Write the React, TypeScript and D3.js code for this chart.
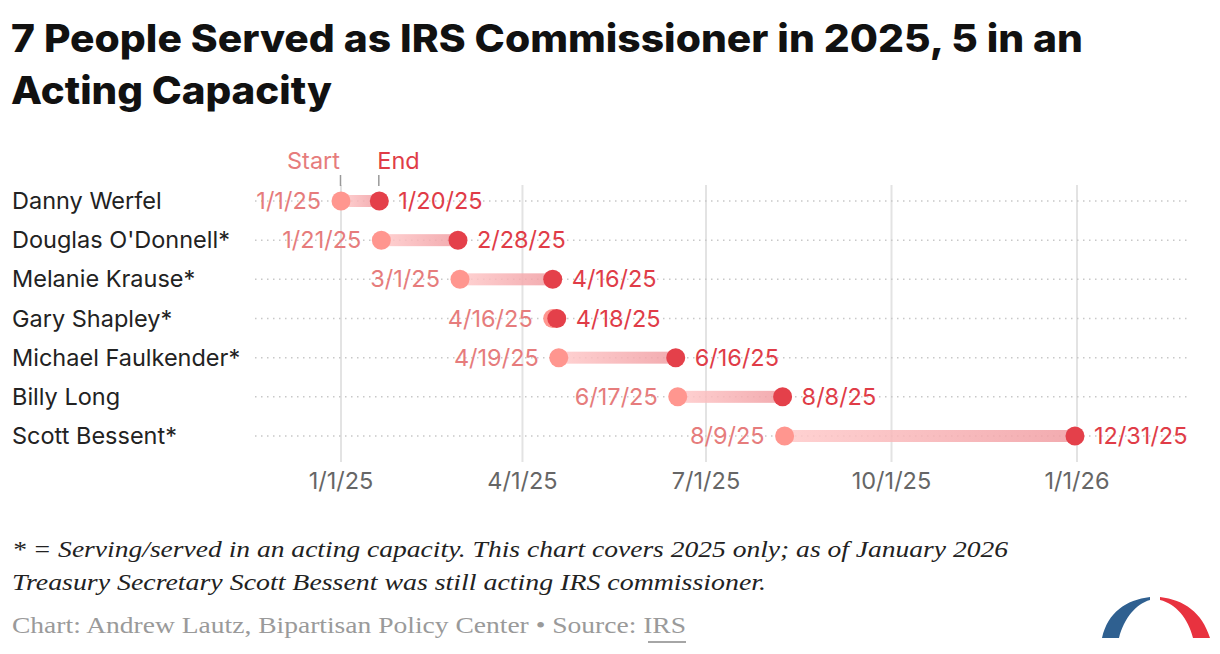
import React, { useEffect, useRef } from 'react';
import * as d3 from 'd3';

const names = [
  'Danny Werfel',
  "Douglas O'Donnell*",
  'Melanie Krause*',
  'Gary Shapley*',
  'Michael Faulkender*',
  'Billy Long',
  'Scott Bessent*',
];
const startDates = ['1/1/25', '1/21/25', '3/1/25', '4/16/25', '4/19/25', '6/17/25', '8/9/25'];
const endDates = ['1/20/25', '2/28/25', '4/16/25', '4/18/25', '6/16/25', '8/8/25', '12/31/25'];
const tickDates = ['1/1/25', '4/1/25', '7/1/25', '10/1/25', '1/1/26'];

const W = 1220;
const H = 654;
const SANS = 'Inter, "Noto Sans", sans-serif';
const SERIF = '"Liberation Serif", "DejaVu Serif", serif';
const FS = 23.5;

const App: React.FC = () => {
  const svgRef = useRef<SVGSVGElement>(null);

  useEffect(() => {
    if (!svgRef.current) return;
    document.body.style.margin = '0';
    const svg = d3.select(svgRef.current);
    svg.selectAll('*').remove();

    const parse = d3.timeParse('%m/%d/%y');
    const rows = names.map((n, i) => ({
      name: n,
      startLabel: startDates[i],
      endLabel: endDates[i],
      start: parse(startDates[i]) as Date,
      end: parse(endDates[i]) as Date,
    }));

    const x = d3.scaleTime()
      .domain([parse('1/1/25') as Date, parse('1/1/26') as Date])
      .range([341, 1077]);
    const y = d3.scalePoint<string>().domain(names).range([201, 436]);

    const defs = svg.append('defs');
    const grad = defs.append('linearGradient')
      .attr('id', 'barGrad')
      .attr('x1', '0%').attr('x2', '100%');
    grad.append('stop').attr('offset', '0%').attr('stop-color', '#ffcaca');
    grad.append('stop').attr('offset', '100%').attr('stop-color', '#f09ca1');

    // title
    const title = svg.append('text')
      .attr('font-family', SANS)
      .attr('font-weight', 800)
      .attr('font-size', 38)
      .attr('fill', '#111');
    title.append('tspan').attr('x', 11).attr('y', 52)
      .attr('textLength', 1072).attr('lengthAdjust', 'spacingAndGlyphs')
      .text('7 People Served as IRS Commissioner in 2025, 5 in an');
    title.append('tspan').attr('x', 11).attr('y', 104)
      .attr('textLength', 321).attr('lengthAdjust', 'spacingAndGlyphs')
      .text('Acting Capacity');

    // vertical grid
    const ticks = tickDates.map(t => parse(t) as Date);
    svg.append('g').selectAll('line')
      .data(ticks)
      .enter().append('line')
      .attr('x1', d => x(d)).attr('x2', d => x(d))
      .attr('y1', 185).attr('y2', 462)
      .attr('stroke', '#e3e3e3')
      .attr('stroke-width', 2);

    // row dotted lines
    svg.append('g').selectAll('line')
      .data(rows)
      .enter().append('line')
      .attr('x1', 255).attr('x2', 1190)
      .attr('y1', d => y(d.name)!).attr('y2', d => y(d.name)!)
      .attr('stroke', '#c8c8c8')
      .attr('stroke-width', 1.5)
      .attr('stroke-dasharray', '1.5,4.5');

    // axis labels
    svg.append('g').selectAll('text')
      .data(ticks)
      .enter().append('text')
      .attr('x', d => x(d))
      .attr('y', 489)
      .attr('text-anchor', 'middle')
      .attr('font-family', SANS)
      .attr('font-size', FS)
      .attr('fill', '#666')
      .text((d, i) => tickDates[i]);

    // names
    svg.append('g').selectAll('text')
      .data(rows)
      .enter().append('text')
      .attr('x', 12)
      .attr('y', d => y(d.name)! + 8)
      .attr('font-family', SANS)
      .attr('font-size', FS)
      .attr('fill', '#222')
      .text(d => d.name);

    const g = svg.append('g');
    // bars
    g.selectAll('rect.bar')
      .data(rows)
      .enter().append('rect')
      .attr('x', d => x(d.start))
      .attr('y', d => y(d.name)! - 6)
      .attr('width', d => Math.max(0.1, x(d.end) - x(d.start)))
      .attr('height', 12)
      .attr('fill', 'url(#barGrad)')
      .attr('opacity', 0.85);

    g.selectAll('circle.s')
      .data(rows)
      .enter().append('circle')
      .attr('cx', d => x(d.start))
      .attr('cy', d => y(d.name)!)
      .attr('r', 9.5)
      .attr('fill', '#ff968f');

    g.selectAll('circle.e')
      .data(rows)
      .enter().append('circle')
      .attr('cx', d => x(d.end))
      .attr('cy', d => y(d.name)!)
      .attr('r', 9.5)
      .attr('fill', '#e4404a');

    g.selectAll('text.s')
      .data(rows)
      .enter().append('text')
      .attr('x', d => x(d.start) - 20)
      .attr('y', d => y(d.name)! + 8)
      .attr('text-anchor', 'end')
      .attr('font-family', SANS)
      .attr('font-size', FS)
      .attr('fill', '#e67c7c')
      .text(d => d.startLabel);

    g.selectAll('text.e')
      .data(rows)
      .enter().append('text')
      .attr('x', d => x(d.end) + 19)
      .attr('y', d => y(d.name)! + 8)
      .attr('text-anchor', 'start')
      .attr('font-family', SANS)
      .attr('font-size', FS)
      .attr('fill', '#e03c47')
      .text(d => d.endLabel);

    // Start / End annotation
    const first = rows[0];
    svg.append('text')
      .attr('x', x(first.start) - 1)
      .attr('y', 169)
      .attr('text-anchor', 'end')
      .attr('font-family', SANS)
      .attr('font-size', FS)
      .attr('fill', '#e67c7c')
      .text('Start');
    svg.append('text')
      .attr('x', x(first.end) - 2)
      .attr('y', 169)
      .attr('text-anchor', 'start')
      .attr('font-family', SANS)
      .attr('font-size', FS)
      .attr('fill', '#e03c47')
      .text('End');
    [first.start, first.end].forEach(d => {
      svg.append('line')
        .attr('x1', x(d) - 0.5).attr('x2', x(d) - 0.5)
        .attr('y1', 175).attr('y2', 186)
        .attr('stroke', '#999')
        .attr('stroke-width', 1.5);
    });

    // notes
    svg.append('text')
      .attr('x', 12).attr('y', 557)
      .attr('font-family', SERIF)
      .attr('font-style', 'italic')
      .attr('font-size', 24)
      .attr('fill', '#222')
      .attr('textLength', 996)
      .attr('lengthAdjust', 'spacingAndGlyphs')
      .text('* = Serving/served in an acting capacity. This chart covers 2025 only; as of January 2026');
    svg.append('text')
      .attr('x', 12).attr('y', 590)
      .attr('font-family', SERIF)
      .attr('font-style', 'italic')
      .attr('font-size', 24)
      .attr('fill', '#222')
      .attr('textLength', 754)
      .attr('lengthAdjust', 'spacingAndGlyphs')
      .text('Treasury Secretary Scott Bessent was still acting IRS commissioner.');
    svg.append('text')
      .attr('x', 12).attr('y', 633)
      .attr('font-family', SERIF)
      .attr('font-size', 23)
      .attr('fill', '#9a9a9a')
      .attr('textLength', 674)
      .attr('lengthAdjust', 'spacingAndGlyphs')
      .text('Chart: Andrew Lautz, Bipartisan Policy Center • Source: IRS');
    svg.append('line')
      .attr('x1', 648).attr('x2', 686)
      .attr('y1', 642).attr('y2', 642)
      .attr('stroke', '#888')
      .attr('stroke-width', 1.5);

    // logo
    svg.append('path')
      .attr('d', 'M1102,638 C1108,612 1126,600 1150,597 L1150,600 C1136,604 1124,618 1119,638 Z')
      .attr('fill', '#2f6090');
    svg.append('path')
      .attr('d', 'M1160,597 C1184,600 1202,612 1210,638 L1193,638 C1188,618 1176,604 1160,600 Z')
      .attr('fill', '#e8323f');
  }, []);

  return (
    <svg
      ref={svgRef}
      width={W}
      height={H}
      style={{ position: 'absolute', left: 0, top: 0, background: '#fff' }}
    />
  );
};

export default App;
